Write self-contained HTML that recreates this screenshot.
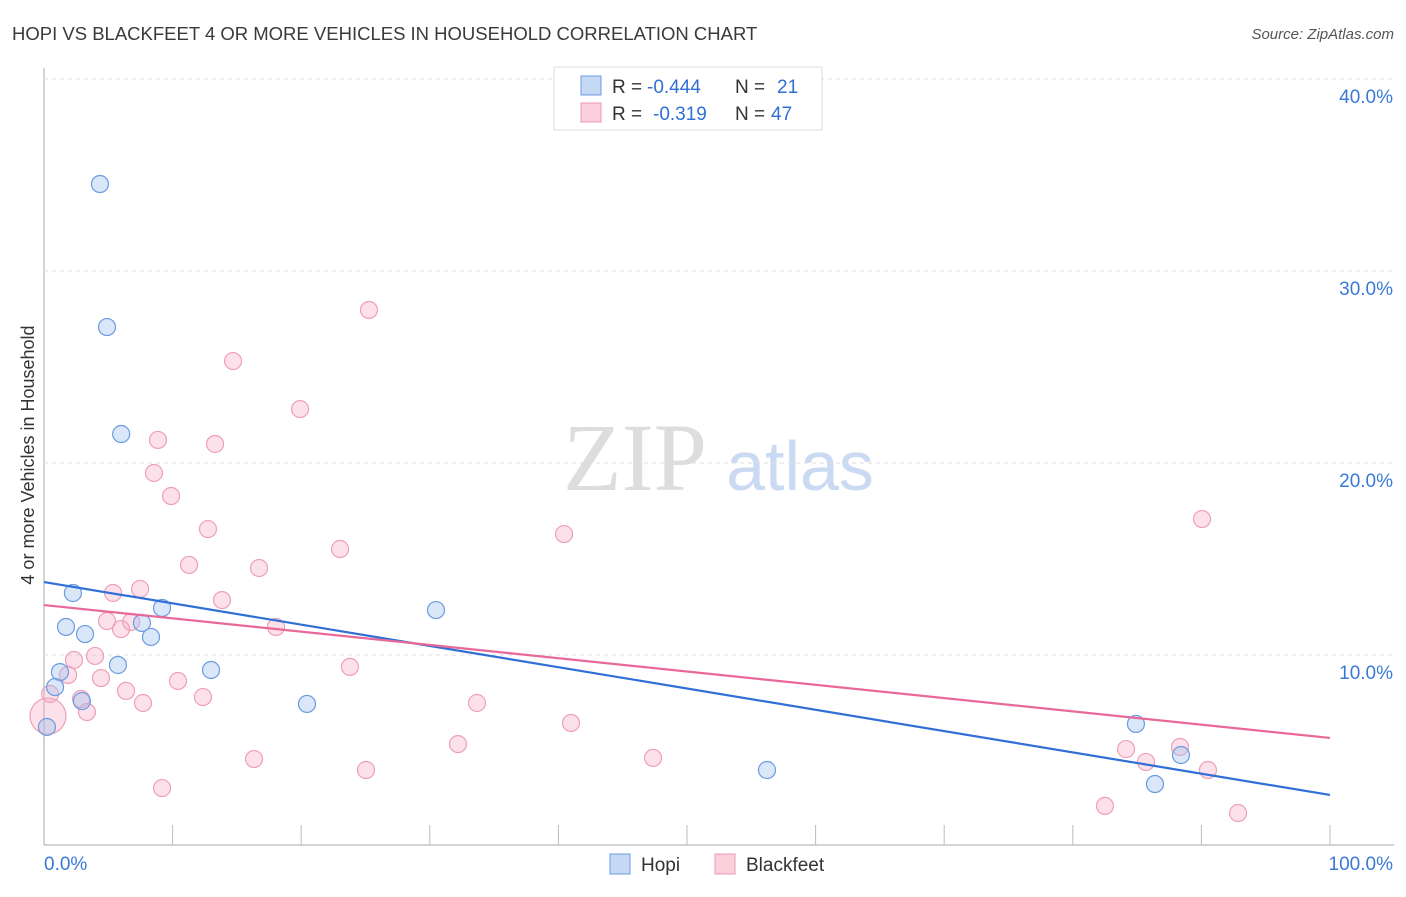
<!DOCTYPE html>
<html><head><meta charset="utf-8"><style>
body{margin:0;background:#fff;font-family:"Liberation Sans",sans-serif;}
</style></head><body>
<svg id="c" width="1406" height="892" xmlns="http://www.w3.org/2000/svg">
<text x="12" y="40" font-size="18.5" fill="#3a3a3a">HOPI VS BLACKFEET 4 OR MORE VEHICLES IN HOUSEHOLD CORRELATION CHART</text>
<text x="1394" y="39" font-size="15" fill="#555" font-style="italic" text-anchor="end">Source: ZipAtlas.com</text>
<text x="635" y="490" font-size="96" fill="#ddd" font-family="Liberation Serif,serif" text-anchor="middle">ZIP</text>
<text x="800" y="490" font-size="70" fill="#c9daf2" text-anchor="middle">atlas</text>
<text transform="translate(34,455) rotate(-90)" font-size="18" fill="#333" text-anchor="middle">4 or more Vehicles in Household</text>
<g id="grid"></g><g id="marks"></g>
<g>
<rect x="554" y="67" width="268" height="63" fill="#fff" stroke="#ddd"/>
<rect x="581" y="76" width="20" height="19" fill="#c5d9f5" stroke="#6b9be0"/>
<rect x="581" y="103" width="20" height="19" fill="#fbd0dc" stroke="#ec98b2"/>
<text x="612" y="93" font-size="19" fill="#333">R =</text>
<text x="647" y="93" font-size="19" fill="#2f6fd6">-0.444</text>
<text x="735" y="93" font-size="19" fill="#333">N =</text>
<text x="777" y="93" font-size="19" fill="#2f6fd6">21</text>
<text x="612" y="120" font-size="19" fill="#333">R =</text>
<text x="653" y="120" font-size="19" fill="#2f6fd6">-0.319</text>
<text x="735" y="120" font-size="19" fill="#333">N =</text>
<text x="771" y="120" font-size="19" fill="#2f6fd6">47</text>
</g>
<g>
<rect x="610" y="854" width="20" height="20" fill="#c5d9f5" stroke="#6b9be0"/>
<text x="641" y="871" font-size="19" fill="#333">Hopi</text>
<rect x="715" y="854" width="20" height="20" fill="#fbd0dc" stroke="#ec98b2"/>
<text x="746" y="871" font-size="19" fill="#333">Blackfeet</text>
</g>
</svg>
<script>
const yTicks=[10,20,30,40];
const xTickLabels=["0.0%","100.0%"];
const hopiX=[4.35,4.9,6.0,2.25,1.71,3.19,7.62,8.32,9.18,1.24,0.86,2.95,5.75,12.99,20.45,30.48,56.22,84.91,86.39,88.41,0.23];
const hopiY=[34.53,27.08,21.51,13.23,11.46,11.09,11.67,10.94,12.45,9.11,8.33,7.6,9.48,9.22,7.45,12.34,4.01,6.41,3.28,4.79,6.25];
const bfX=[25.27,14.70,19.91,8.86,13.30,8.55,9.88,12.75,23.02,11.28,16.72,40.44,90.05,7.47,5.37,13.84,4.90,6.77,5.99,18.04,3.97,2.33,1.87,10.42,4.43,23.79,6.38,12.36,2.88,7.70,3.34,33.67,40.98,32.19,0.47,16.33,47.36,25.04,9.18,84.14,85.69,88.34,90.51,82.50,92.85,0.31];
const bfY=[27.97,25.31,22.81,21.20,20.99,19.48,18.28,16.56,15.52,14.69,14.53,16.30,17.08,13.44,13.23,12.86,11.77,11.72,11.35,11.46,9.95,9.74,8.96,8.65,8.80,9.38,8.13,7.81,7.71,7.50,7.03,7.50,6.46,5.36,7.97,4.58,4.64,4.01,3.07,5.10,4.43,5.21,4.01,2.14,1.77,6.82];
const hopiTrend=[13.80,2.71];
const bfTrend=[12.60,5.68];
const X=v=>44+v*12.86, Y=v=>847-v*19.2;
const NS="http://www.w3.org/2000/svg";
const g=document.getElementById('grid'), m=document.getElementById('marks');
function mk(p,tag,a){const e=document.createElementNS(NS,tag);for(const k in a)e.setAttribute(k,a[k]);p.appendChild(e);return e;}
let ax=mk(g,'line',{x1:44,y1:68,x2:44,y2:845,stroke:'#aaa'});


let bx=mk(g,'line',{x1:44,y1:845,x2:1394,y2:845,stroke:'#aaa'});


for(let i=1;i<=10;i++){let t=mk(g,'line',{x1:X(i*10),y1:825,x2:X(i*10),y2:845,stroke:'#bbb'});

}
yTicks.forEach(v=>{let l=mk(g,'line',{x1:44,y1:Y(v),x2:1394,y2:Y(v),stroke:'#ddd','stroke-dasharray':'4,4'});


let t=mk(g,'text',{x:1393,y:Y(v)+24,'font-size':19,fill:'#3b78d8','text-anchor':'end'});t.textContent=v.toFixed(1)+'%';

});
xTickLabels.forEach((s,i)=>{let t=mk(g,'text',{x:i?1393:44,y:870,'font-size':19,fill:'#3b78d8','text-anchor':i?'end':'start'});t.textContent=s;

});
bfX.forEach((x,i)=>{let c=mk(m,'circle',{cx:X(x),cy:Y(bfY[i]),r:i==bfX.length-1?18:8.5,fill:'rgba(246,170,195,0.35)',stroke:'#eeA0b8','stroke-width':1.2});

});
hopiX.forEach((x,i)=>{let c=mk(m,'circle',{cx:X(x),cy:Y(hopiY[i]),r:8.5,fill:'rgba(160,195,240,0.4)',stroke:'#6b9be0','stroke-width':1.2});

});
let l1=mk(m,'line',{x1:X(0),y1:Y(hopiTrend[0]),x2:X(100),y2:Y(hopiTrend[1]),stroke:'#2f6fd6','stroke-width':2.2});


let l2=mk(m,'line',{x1:X(0),y1:Y(bfTrend[0]),x2:X(100),y2:Y(bfTrend[1]),stroke:'#e8689a','stroke-width':2.2});


</script>
</body></html>
